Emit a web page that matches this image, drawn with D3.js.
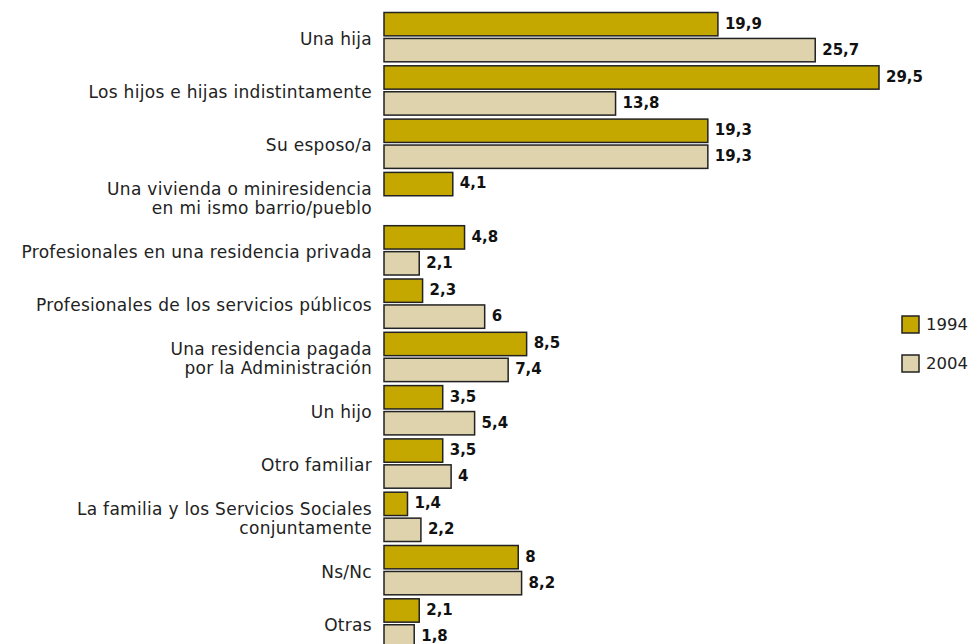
<!DOCTYPE html>
<html>
<head>
<meta charset="utf-8">
<script src="https://cdn.jsdelivr.net/npm/d3@7"></script>
<style>
  html, body { margin: 0; padding: 0; background: #fff; }
  svg { display: block; }
  .cat { font-family: "DejaVu Sans", sans-serif; font-size: 17px; letter-spacing: 0.3px; fill: #222; }
  .val { font-family: "DejaVu Sans", sans-serif; font-weight: bold; font-size: 15px; fill: #111; }
  .leg { font-family: "DejaVu Sans", sans-serif; font-size: 16.5px; fill: #222; }
</style>
</head>
<body>
<svg id="chart" width="971" height="644"></svg>
<script>
// Categories (line breaks marked with "\n")
const categories = [
  "Una hija",
  "Los hijos e hijas indistintamente",
  "Su esposo/a",
  "Una vivienda o miniresidencia\nen mi ismo barrio/pueblo",
  "Profesionales en una residencia privada",
  "Profesionales de los servicios públicos",
  "Una residencia pagada\npor la Administración",
  "Un hijo",
  "Otro familiar",
  "La familia y los Servicios Sociales\nconjuntamente",
  "Ns/Nc",
  "Otras"
];
const seriesNames = ["1994", "2004"];
const values1994 = [19.9, 29.5, 19.3, 4.1, 4.8, 2.3, 8.5, 3.5, 3.5, 1.4, 8, 2.1];
const values2004 = [25.7, 13.8, 19.3, null, 2.1, 6, 7.4, 5.4, 4, 2.2, 8.2, 1.8];
const seriesColors = ["#c4a800", "#ded3ad"];

const svg = d3.select("#chart");
const left = 384;

const x = d3.scaleLinear().domain([0, 29.5]).range([left, 879]);
const y = d3.scaleBand().domain(categories).range([10.5, 650.1])
  .paddingInner(0.075).paddingOuter(0.0375);
const ySub = d3.scaleBand().domain(seriesNames).range([0, y.bandwidth()]).paddingInner(0.1);

const rows = categories.map((c, i) => ({
  cat: c,
  vals: [
    { s: "1994", v: values1994[i], color: seriesColors[0] },
    { s: "2004", v: values2004[i], color: seriesColors[1] }
  ]
}));

const fmt = v => String(v).replace(".", ",");

const groups = svg.selectAll("g.row").data(rows).join("g")
  .attr("class", "row")
  .attr("transform", d => `translate(0,${y(d.cat)})`);

const bars = groups.selectAll("g.bar").data(d => d.vals.filter(e => e.v != null)).join("g").attr("class", "bar");

bars.append("rect")
  .attr("x", x(0))
  .attr("y", d => ySub(d.s))
  .attr("width", d => x(d.v) - x(0))
  .attr("height", ySub.bandwidth())
  .attr("fill", d => d.color)
  .attr("stroke", "#222")
  .attr("stroke-width", 1.5);

bars.append("text")
  .attr("class", "val")
  .attr("x", d => x(d.v) + 7)
  .attr("y", d => ySub(d.s) + ySub.bandwidth() / 2 - 1)
  .attr("dy", "0.36em")
  .text(d => fmt(d.v));

// Category labels, right aligned against the bars
groups.append("text")
  .attr("class", "cat")
  .attr("text-anchor", "end")
  .attr("x", 372)
  .each(function(d) {
    const lines = d.cat.split("\n");
    const lh = 18.5;
    const t = d3.select(this);
    lines.forEach((ln, j) => {
      t.append("tspan")
        .attr("x", 372)
        .attr("y", y.bandwidth() / 2 + 1.5 + (j - (lines.length - 1) / 2) * lh)
        .attr("dy", "0.35em")
        .text(ln);
    });
  });

// Legend
const legend = svg.append("g").attr("transform", "translate(902,316)");
const li = legend.selectAll("g").data(seriesNames).join("g")
  .attr("transform", (d, i) => `translate(0,${i * 39})`);
li.append("rect")
  .attr("width", 17).attr("height", 17)
  .attr("fill", (d, i) => seriesColors[i])
  .attr("stroke", "#222").attr("stroke-width", 1.5);
li.append("text")
  .attr("class", "leg")
  .attr("x", 24).attr("y", 8.5).attr("dy", "0.36em")
  .text(d => d);
</script>
</body>
</html>
